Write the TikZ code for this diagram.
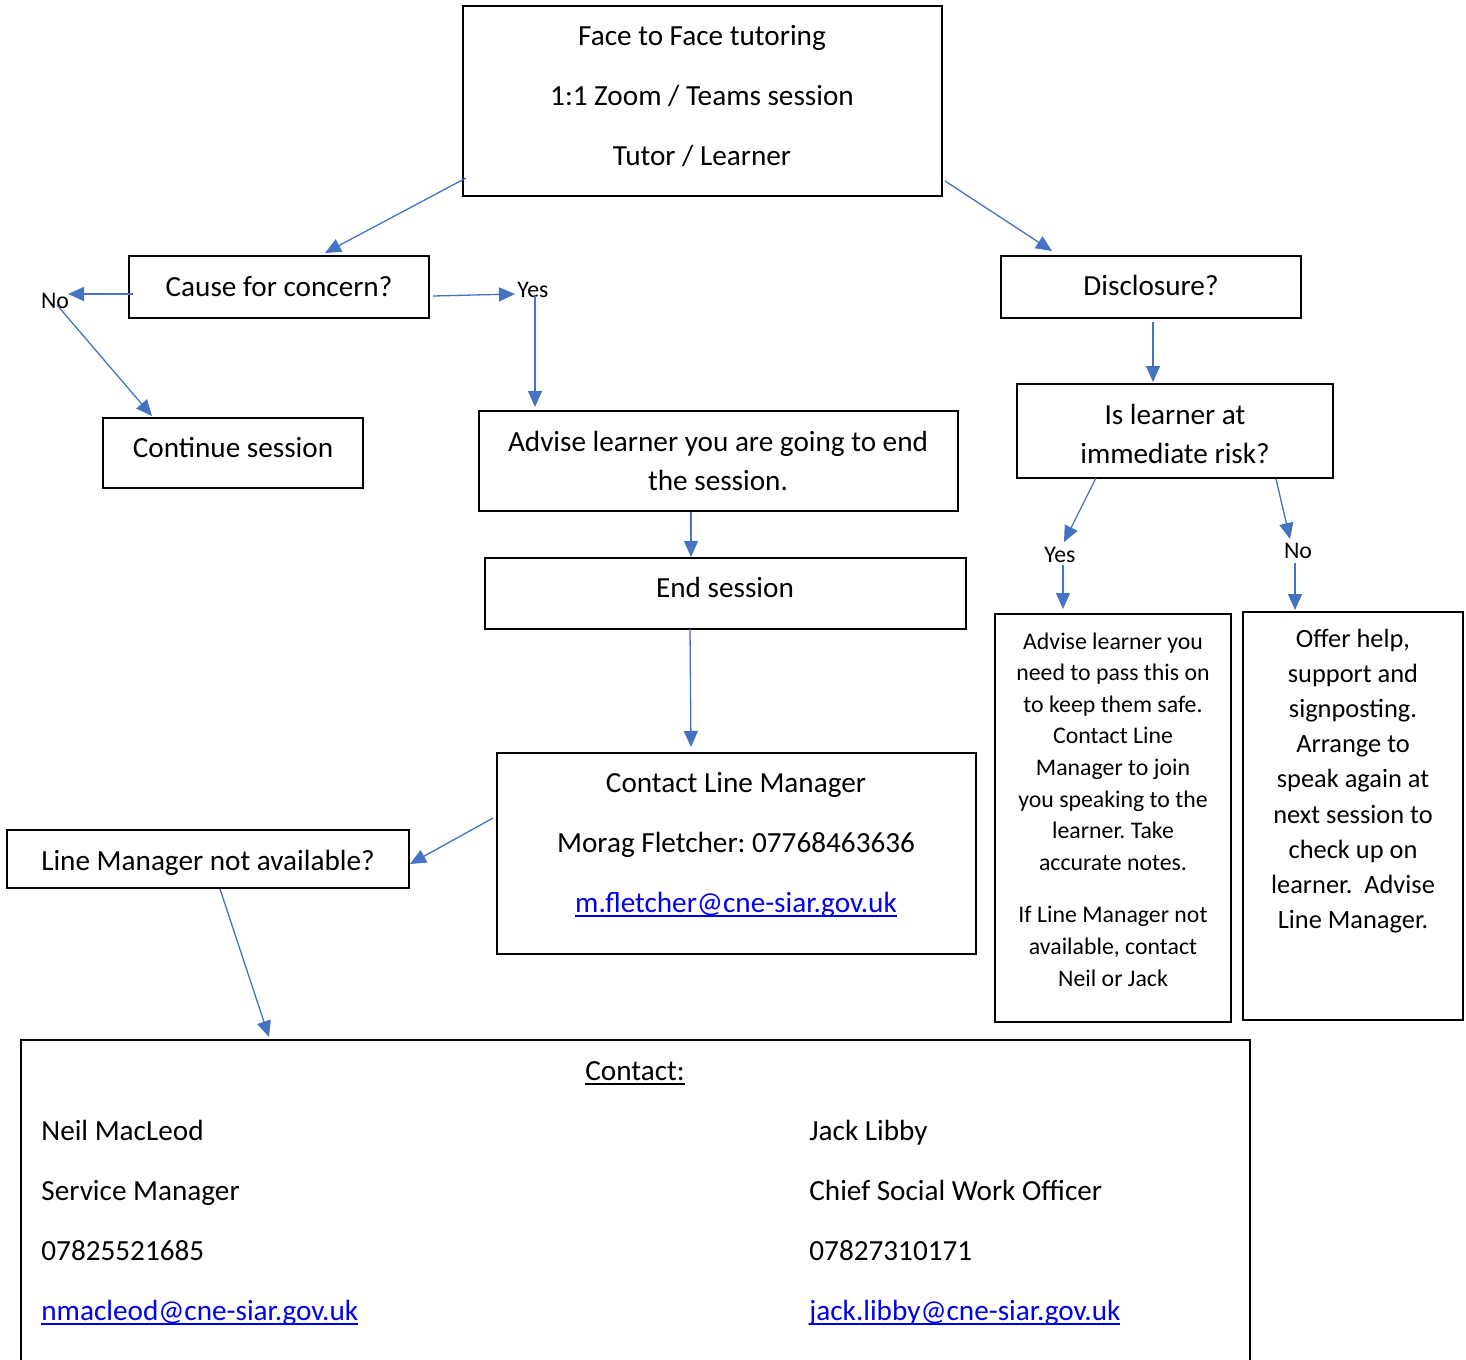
\documentclass[tikz,border=0pt]{standalone}
\usepackage{fontspec}
\setmainfont{Carlito}
\usetikzlibrary{arrows.meta}
\definecolor{arr}{HTML}{4472C4}
\definecolor{lnk}{HTML}{0000EE}
\newcommand{\lk}[1]{{\color{lnk}\setbox0\hbox{#1}\rlap{\rule[-2.2pt]{\wd0}{0.8pt}}\box0}}
\newcommand{\ul}[1]{{\setbox0\hbox{#1}\rlap{\rule[-2.2pt]{\wd0}{0.8pt}}\box0}}
\frenchspacing
\begin{document}
\begin{tikzpicture}[x=0.5pt,y=-0.5pt,
  box/.style={draw=black,line width=1pt,inner sep=0pt},
  big/.style={font=\fontsize{14.6}{17.5}\selectfont,inner sep=0pt},
  one/.style={text height=13pt,text depth=2.5pt},
  sm/.style={font=\fontsize{11.9}{14}\selectfont,inner sep=0pt},
  conn/.style={draw=arr,line width=0.65pt,-{Triangle[length=8pt,width=7pt]}}]
\useasboundingbox (0,0) rectangle (1466,1359);
\fill[white] (0,0) rectangle (1466,1359);

% boxes
\node[box,minimum width=239.5pt,minimum height=95pt] (top) at (702.5,101) {};
\node[box,minimum width=150pt,minimum height=31pt] (cause) at (279,287) {};
\node[box,minimum width=150pt,minimum height=31pt] (disc) at (1151,287) {};
\node[box,minimum width=130pt,minimum height=35pt] (cont) at (233,453) {};
\node[box,minimum width=239.5pt,minimum height=50pt] (adv) at (718.5,461) {};
\node[box,minimum width=240.5pt,minimum height=35.5pt] (endb) at (725.5,593.5) {};
\node[box,minimum width=158pt,minimum height=47pt] (risk) at (1175,431) {};
\node[box,minimum width=239.5pt,minimum height=100.5pt] (clm) at (736.5,853.5) {};
\node[box,minimum width=201pt,minimum height=29pt] (lmna) at (208,859) {};
\node[box,minimum width=118pt,minimum height=204pt] (pass) at (1113,818) {};
\node[box,minimum width=110pt,minimum height=204pt] (offer) at (1353,816) {};
\node[box,minimum width=614.5pt,minimum height=180pt] (contact) at (635.5,1220) {};

% texts
\node[big,align=center,font=\fontsize{14.6}{30}\selectfont] (toptxt) at (702,96) {Face to Face tutoring\\1:1 Zoom / Teams session\\Tutor / Learner};
\node[big,one] (causetxt) at (279,286) {Cause for concern?};
\node[big,one] (disctxt) at (1151,285) {Disclosure?};
\node[big,one] (conttxt) at (233,447) {Continue session};
\node[big,align=center,font=\fontsize{14.6}{19.5}\selectfont] (advtxt) at (718,460.5) {Advise learner you are going to end\\the session.};
\node[big,one] (endtxt) at (725,587) {End session};
\node[big,align=center,font=\fontsize{14.6}{19.5}\selectfont] (risktxt) at (1175,433.5) {Is learner at\\immediate risk?};
\node[big,align=center,font=\fontsize{14.6}{30}\selectfont] (clmtxt) at (736,845) {Contact Line Manager\\Morag Fletcher: 07768463636\\\lk{m.fletcher@cne-siar.gov.uk}};
\node[big,one] (lmnatxt) at (208,860) {Line Manager not available?};
\node[sm,align=center,font=\fontsize{11.9}{15.8}\selectfont] (passtxt) at (1113,809.5) {Advise learner you\\need to pass this on\\to keep them safe.\\Contact Line\\Manager to join\\you speaking to the\\learner. Take\\accurate notes.\\[10.5pt]If Line Manager not\\available, contact\\Neil or Jack};
\node[big,align=center,font=\fontsize{13.2}{17.6}\selectfont] (offertxt) at (1353,781) {Offer help,\\support and\\signposting.\\Arrange to\\speak again at\\next session to\\check up on\\learner.\ \ Advise\\Line Manager.};
\node[big,one] (ctitle) at (635,1070) {\ul{Contact:}};
\node[big,one,anchor=west] (n1) at (41,1130) {Neil MacLeod};
\node[big,one,anchor=west] (n2) at (41,1190) {Service Manager};
\node[big,one,anchor=west] (n3) at (41,1250) {07825521685};
\node[big,one,anchor=west] (n4) at (41,1310) {\lk{nmacleod@cne-siar.gov.uk}};
\node[big,one,anchor=west] (j1) at (809,1130) {Jack Libby};
\node[big,one,anchor=west] (j2) at (809,1190) {Chief Social Work Officer};
\node[big,one,anchor=west] (j3) at (809,1250) {07827310171};
\node[big,one,anchor=west] (j4) at (809,1310) {\lk{jack.libby@cne-siar.gov.uk}};

% labels
\node[sm] (no1) at (55,301) {No};
\node[sm] (yes1) at (533,290) {Yes};
\node[sm] (yes2) at (1060,555) {Yes};
\node[sm] (no2) at (1298,551) {No};

% connector points
\coordinate (a1s) at (466,178); \coordinate (a1e) at (325,253);
\coordinate (a2s) at (945,181); \coordinate (a2e) at (1052,251);
\coordinate (a3s) at (133,294); \coordinate (a3e) at (68,294);
\coordinate (a4s) at (57,305);  \coordinate (a4e) at (152,416);
\coordinate (a5s) at (433,296); \coordinate (a5e) at (515,294);
\coordinate (a6s) at (535,296); \coordinate (a6e) at (535,407);
\coordinate (a7s) at (691,512); \coordinate (a7e) at (691,557);
\coordinate (a8s) at (690,629); \coordinate (a8e) at (691,747);
\coordinate (a9s) at (1153,322); \coordinate (a9e) at (1153,382);
\coordinate (a10s) at (1096,478); \coordinate (a10e) at (1064,542);
\coordinate (a11s) at (1063,565); \coordinate (a11e) at (1063,609);
\coordinate (a12s) at (1276,479); \coordinate (a12e) at (1290,539);
\coordinate (a13s) at (1295,563); \coordinate (a13e) at (1295,610);
\coordinate (a14s) at (493,818); \coordinate (a14e) at (410,864);
\coordinate (a15s) at (220,889); \coordinate (a15e) at (269,1037);

\foreach \i in {1,...,15} {\draw[conn] (a\i s) -- (a\i e);}
\end{tikzpicture}
\end{document}
